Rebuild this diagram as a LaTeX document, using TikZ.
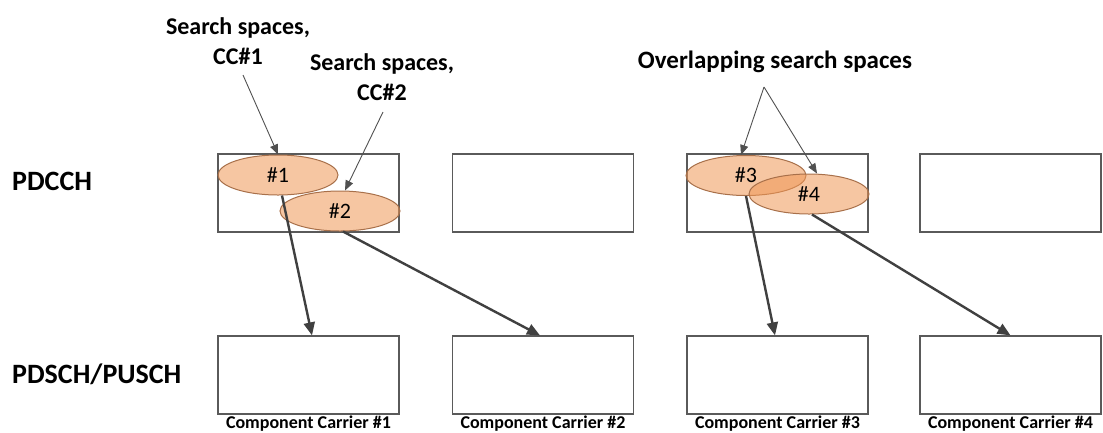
\documentclass[tikz,border=0pt]{standalone}
\usepackage{fontspec}
\setmainfont{Carlito}
\usetikzlibrary{shapes.geometric,arrows.meta}
\definecolor{boxgray}{RGB}{90,90,90}
\definecolor{spacefill}{RGB}{239,151,86}
\definecolor{spaceedge}{RGB}{168,112,74}
\definecolor{ptrgray}{RGB}{80,80,80}
\definecolor{mapgray}{RGB}{64,64,64}
\begin{document}
\begin{tikzpicture}[x=1pt,y=-1pt,
  carrier/.style={draw=boxgray,line width=1.2pt,minimum width=181pt,minimum height=78pt,inner sep=0pt},
  space/.style={ellipse,draw=spaceedge,line width=1pt,fill=spacefill,fill opacity=0.55,text opacity=1,
    minimum width=120pt,minimum height=40pt,inner sep=0pt,font=\fontsize{22}{22}\selectfont},
  pointer/.style={draw=ptrgray,line width=0.9pt,-{Triangle[length=10pt,width=8pt]}},
  mapping/.style={draw=mapgray,line width=2.4pt,-{Triangle[length=13pt,width=11pt]}},
  chan/.style={inner sep=0pt,anchor=base west,font=\fontsize{28}{28}\selectfont\bfseries},
  note/.style={inner sep=0pt,align=center,font=\fontsize{24}{30}\selectfont\bfseries},
  cclabel/.style={inner sep=0pt,anchor=base,font=\fontsize{18}{18}\selectfont\bfseries}
]
\useasboundingbox (0,0) rectangle (1103,432);

% channel names
\node[chan] (pdcch) at (12,190) {PDCCH};
\node[chan] (pdsch) at (12,383) {PDSCH/PUSCH};

% control region of each component carrier
\node[carrier] (p1) at (308.5,193) {};
\node[carrier] (p2) at (543,193) {};
\node[carrier] (p3) at (777.5,193) {};
\node[carrier] (p4) at (1010.5,193) {};

% data region of each component carrier
\node[carrier] (d1) at (308.5,375) {};
\node[carrier] (d2) at (543,375) {};
\node[carrier] (d3) at (777.5,375) {};
\node[carrier] (d4) at (1010.5,375) {};

\node[cclabel] (c1) at (308.5,428) {Component Carrier \#1};
\node[cclabel] (c2) at (543,428) {Component Carrier \#2};
\node[cclabel] (c3) at (777.5,428) {Component Carrier \#3};
\node[cclabel] (c4) at (1010.5,428) {Component Carrier \#4};

% search spaces
\node[space] (e1) at (278,175) {\#1};
\node[space] (e2) at (340,211) {\#2};
\node[space] (e3) at (746,175.5) {\#3};
\node[space] (e4) at (809,194) {\#4};

% annotations
\node[note,anchor=north] (n1) at (238,17) {Search spaces,\\CC\#1};
\node[note,anchor=north] (n2) at (382,53) {Search spaces,\\CC\#2};
\node[note,anchor=base,font=\fontsize{25}{30}\selectfont\bfseries] (n3) at (775,68) {Overlapping search spaces};

\coordinate (a1) at (243,75);
\coordinate (a2) at (383,112);
\coordinate (a3) at (764,87);

\draw[pointer] (a1) -- (e1.north);
\draw[pointer] (a2) -- ([xshift=5pt]e2.north);
\draw[pointer] (a3) -- ([xshift=-5pt]e3.north);
\draw[pointer] (a3) -- ([xshift=8pt]e4.north);

% cross-carrier scheduling
\draw[mapping] ([xshift=4pt]e1.south) -- ([xshift=3.5pt]d1.north);
\draw[mapping] ([xshift=3pt]e2.south) -- ([xshift=-3pt]d2.north);
\draw[mapping] (e3.south) -- ([xshift=-2.5pt]d3.north);
\draw[mapping] ([xshift=3pt]e4.south) -- (d4.north);
\end{tikzpicture}
\end{document}
